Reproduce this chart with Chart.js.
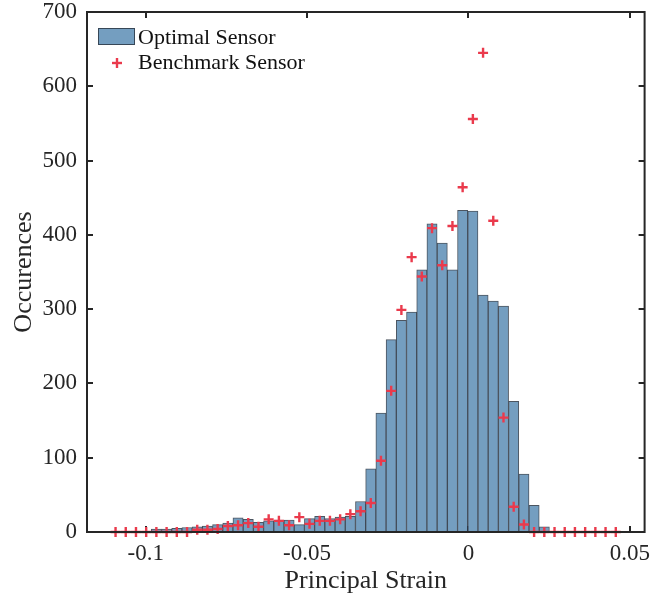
<!DOCTYPE html>
<html>
<head>
<meta charset="utf-8">
<script src="https://cdn.jsdelivr.net/npm/chart.js@4/dist/chart.umd.min.js"></script>
<style>
html,body{margin:0;padding:0;background:#ffffff;}
#wrap{width:652px;height:600px;}
</style>
</head>
<body>
<div id="wrap"><canvas id="c" width="652" height="600"></canvas></div>
<script>
// Bin centres (Principal Strain)
const binCenters = [
  -0.10935, -0.10619, -0.10302, -0.09986, -0.09670, -0.09353, -0.09037, -0.08720,
  -0.08404, -0.08088, -0.07771, -0.07455, -0.07139, -0.06822, -0.06506, -0.06190,
  -0.05873, -0.05557, -0.05240, -0.04924, -0.04608, -0.04291, -0.03975, -0.03659,
  -0.03342, -0.03026, -0.02710, -0.02393, -0.02077, -0.01760, -0.01444, -0.01128,
  -0.00811, -0.00495, -0.00179,  0.00138,  0.00454,  0.00770,  0.01087,  0.01403,
   0.01720,  0.02036,  0.02352,  0.02669,  0.02985,  0.03301,  0.03618,  0.03934,
   0.04250,  0.04567
];
// Optimal Sensor histogram counts (null = empty bin)
const optimalCounts = [
  null, null, null, null, 4, 4, 5, 6,
  7, 8, 10, 12, 19, 17, 13, 15,
  16, 16, 10, 18, 21, 18, 20, 21,
  41, 85, 160, 259, 285, 296, 353, 415,
  389, 353, 433, 432, 319, 311, 304, 176,
  78, 36, 7, null, null, null, null, null,
  null, null
];
// Benchmark Sensor counts
const benchmarkCounts = [
  0, 0, 0, 0, 0, 0, 0, 0,
  3, 3, 4, 8, 9, 12, 7, 17,
  15, 9, 20, 11, 15, 15, 17, 24,
  28, 39, 96, 190, 299, 370, 344, 409,
  359, 412, 464, 556, 645, 419, 154, 34,
  10, 0, 0, 0, 0, 0, 0, 0,
  0, 0
];
const xTickValues = [-0.1, -0.05, 0, 0.05];
const yTickValues = [0, 100, 200, 300, 400, 500, 600, 700];
const seriesLabels = ['Optimal Sensor', 'Benchmark Sensor'];
const xTitle = 'Principal Strain';
const yTitle = 'Occurences';

const FONT = "'Liberation Serif', 'Times New Roman', serif";
const AXIS = '#262626';
const BAR_FILL = 'rgb(116,158,192)';
const BAR_EDGE = 'rgba(45,55,68,0.85)';
const CROSS = '#ea3a4c';

const optData = binCenters.map((x, i) => ({x: x, y: optimalCounts[i]}));
const benchData = binCenters.map((x, i) => ({x: x, y: benchmarkCounts[i]}));

function line(ctx, x1, y1, x2, y2){ ctx.beginPath(); ctx.moveTo(x1,y1); ctx.lineTo(x2,y2); ctx.stroke(); }

const framePlugin = {
  id: 'frame',
  beforeDatasetsDraw(chart){
    const ctx = chart.ctx, a = chart.chartArea, xs = chart.scales.x, ys = chart.scales.y;
    ctx.save();
    ctx.strokeStyle = AXIS;
    ctx.lineWidth = 2;
    const L = 6;
    xs.ticks.forEach(t => {
      const px = Math.round(xs.getPixelForValue(t.value));
      line(ctx, px, a.bottom, px, a.bottom - L);
      line(ctx, px, a.top, px, a.top + L);
    });
    ys.ticks.forEach(t => {
      const py = Math.round(ys.getPixelForValue(t.value));
      line(ctx, a.left, py, a.left + L, py);
      line(ctx, a.right, py, a.right - L, py);
    });
    ctx.restore();
  },
  afterDatasetsDraw(chart){
    const ctx = chart.ctx, a = chart.chartArea;
    ctx.save();
    ctx.strokeStyle = AXIS;
    ctx.lineWidth = 2;
    ctx.strokeRect(a.left, a.top, a.right - a.left, a.bottom - a.top);
    ctx.restore();
  },
  afterDraw(chart){
    const ctx = chart.ctx, a = chart.chartArea;
    const ds0 = chart.data.datasets[1]; // bars
    const ds1 = chart.data.datasets[0]; // crosses
    ctx.save();
    const bx = a.left + 11, by = a.top + 16;
    ctx.fillStyle = ds0.backgroundColor;
    ctx.fillRect(bx, by, 37, 17);
    ctx.strokeStyle = ds0.borderColor;
    ctx.lineWidth = 1;
    ctx.strokeRect(bx + 0.5, by + 0.5, 36, 16);
    ctx.font = "22px " + FONT;
    ctx.fillStyle = '#111111';
    ctx.textBaseline = 'alphabetic';
    ctx.textAlign = 'left';
    ctx.fillText(ds0.label, a.left + 51, a.top + 32);
    const cx = a.left + 30, cy = a.top + 51;
    ctx.strokeStyle = ds1.borderColor;
    ctx.lineWidth = 2.4;
    line(ctx, cx - 5, cy, cx + 5, cy);
    line(ctx, cx, cy - 5, cx, cy + 5);
    ctx.fillText(ds1.label, a.left + 51, a.top + 57);
    ctx.restore();
  }
};

new Chart(document.getElementById('c'), {
  type: 'bar',
  data: {
    datasets: [
      {
        type: 'scatter',
        label: seriesLabels[1],
        data: benchData,
        order: 0,
        pointStyle: 'cross',
        pointRadius: 5,
        pointBorderWidth: 2.4,
        borderColor: CROSS,
        backgroundColor: CROSS,
        clip: false
      },
      {
        type: 'bar',
        label: seriesLabels[0],
        data: optData,
        order: 1,
        backgroundColor: BAR_FILL,
        borderColor: BAR_EDGE,
        borderWidth: 1,
        barPercentage: 1,
        categoryPercentage: 1,
        grouped: false
      }
    ]
  },
  options: {
    responsive: false,
    animation: false,
    devicePixelRatio: 1,
    layout: { padding: { left: 0, right: 5, top: 12, bottom: 0 } },
    plugins: {
      legend: { display: false },
      tooltip: { enabled: false }
    },
    scales: {
      x: {
        type: 'linear',
        offset: false,
        min: -0.1182,
        max: 0.0546,
        grid: { display: false, drawTicks: false },
        border: { display: false },
        afterBuildTicks: (s) => { s.ticks = xTickValues.map(v => ({value: v})); },
        afterFit: (s) => { s.height = 68; },
        ticks: {
          autoSkip: false,
          maxRotation: 0,
          padding: 0,
          color: AXIS,
          font: { family: FONT, size: 23, lineHeight: 1.9 },
          callback: (v) => String(v)
        },
        title: {
          display: true,
          text: xTitle,
          color: AXIS,
          font: { family: FONT, size: 26, lineHeight: 1.2 },
          padding: { top: 0, bottom: 3 }
        }
      },
      y: {
        min: 0,
        max: 700,
        grid: { display: false, drawTicks: false },
        border: { display: false },
        afterBuildTicks: (s) => { s.ticks = yTickValues.map(v => ({value: v})); },
        afterFit: (s) => { s.width = 87; },
        ticks: {
          padding: 10,
          color: AXIS,
          font: { family: FONT, size: 23, lineHeight: 0.1 }
        },
        title: {
          display: true,
          text: yTitle,
          color: AXIS,
          font: { family: FONT, size: 26, lineHeight: 1.2 },
          padding: { top: 9, bottom: 0 }
        }
      }
    }
  },
  plugins: [framePlugin]
});
</script>
</body>
</html>
